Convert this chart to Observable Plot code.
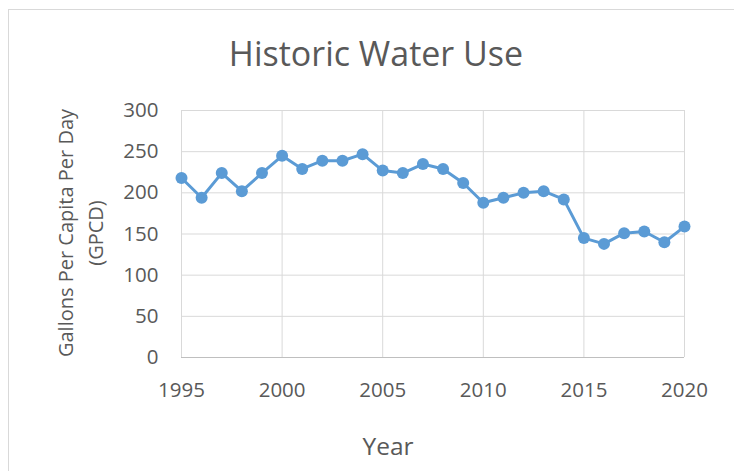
<!DOCTYPE html>
<html>
<head>
<meta charset="utf-8">
<script src="https://cdn.jsdelivr.net/npm/d3@7"></script>
<script src="https://cdn.jsdelivr.net/npm/@observablehq/plot@0.6"></script>
<style>
  html, body { margin: 0; padding: 0; background: #ffffff; }
  #wrap { position: relative; width: 734px; height: 471px; overflow: hidden; background: #fff; }
  #frame { position: absolute; left: 8px; top: 9px; width: 740px; height: 480px;
           border-top: 1px solid #d9d9d9; border-left: 1px solid #d9d9d9; }
  #chart { position: absolute; left: 0; top: 0; }
</style>
</head>
<body>
<div id="wrap"><div id="frame"></div><div id="chart"></div></div>
<script>
const years = [1995, 1996, 1997, 1998, 1999, 2000, 2001, 2002, 2003, 2004, 2005, 2006, 2007,
               2008, 2009, 2010, 2011, 2012, 2013, 2014, 2015, 2016, 2017, 2018, 2019, 2020];
const gpcd  = [218, 194, 224, 202, 224, 245, 229, 239, 239, 247, 227, 224, 235,
               229, 212, 188, 194, 200, 202, 192, 145, 138, 151, 153, 140, 159];
const xTicks = [1995, 2000, 2005, 2010, 2015, 2020];
const yTicks = [0, 50, 100, 150, 200, 250, 300];
const title = "Historic Water Use";
const yLabel = "Gallons Per Capita Per Day\n(GPCD)";
const xLabel = "Year";

const data = years.map((y, i) => ({year: y, value: gpcd[i]}));
const font = "'Open Sans', sans-serif";
const grey = "#595959";

const chart = Plot.plot({
  width: 734,
  height: 471,
  marginLeft: 181,
  marginRight: 50,
  marginTop: 110,
  marginBottom: 114,
  style: {fontFamily: font, fontSize: "20px", color: grey, background: "transparent", overflow: "visible"},
  x: {domain: [1995, 2020]},
  y: {domain: [0, 300]},
  marks: [
    Plot.gridX(xTicks, {stroke: "#d9d9d9", strokeOpacity: 1}),
    Plot.gridY(yTicks, {stroke: "#d9d9d9", strokeOpacity: 1}),
    Plot.ruleY([0], {stroke: "#bfbfbf", strokeWidth: 1}),
    Plot.axisX(xTicks, {tickSize: 0, tickPadding: 25, tickFormat: d => String(d), label: null,
                        fontSize: 20.5, fill: grey}),
    Plot.axisY(yTicks, {tickSize: 0, tickPadding: 23, label: null, fontSize: 20.5, fill: grey}),
    Plot.line(data, {x: "year", y: "value", stroke: "#5b9bd5", strokeWidth: 3}),
    Plot.dot(data, {x: "year", y: "value", fill: "#5b9bd5", r: 6}),
    Plot.text([title], {text: d => d, frameAnchor: "top", dx: -57, dy: -55, lineAnchor: "middle",
                        fontSize: 34, fill: grey}),
    Plot.text([yLabel], {text: d => d, frameAnchor: "left", dx: -103, dy: -1, rotate: -90,
                         textAnchor: "middle", lineAnchor: "middle", lineHeight: 1.5,
                         fontSize: 20, fill: grey}),
    Plot.text([xLabel], {text: d => d, frameAnchor: "bottom", dx: -45, dy: 89.5, lineAnchor: "middle",
                         fontSize: 24.5, fill: grey})
  ]
});
document.getElementById("chart").appendChild(chart);
</script>
</body>
</html>
